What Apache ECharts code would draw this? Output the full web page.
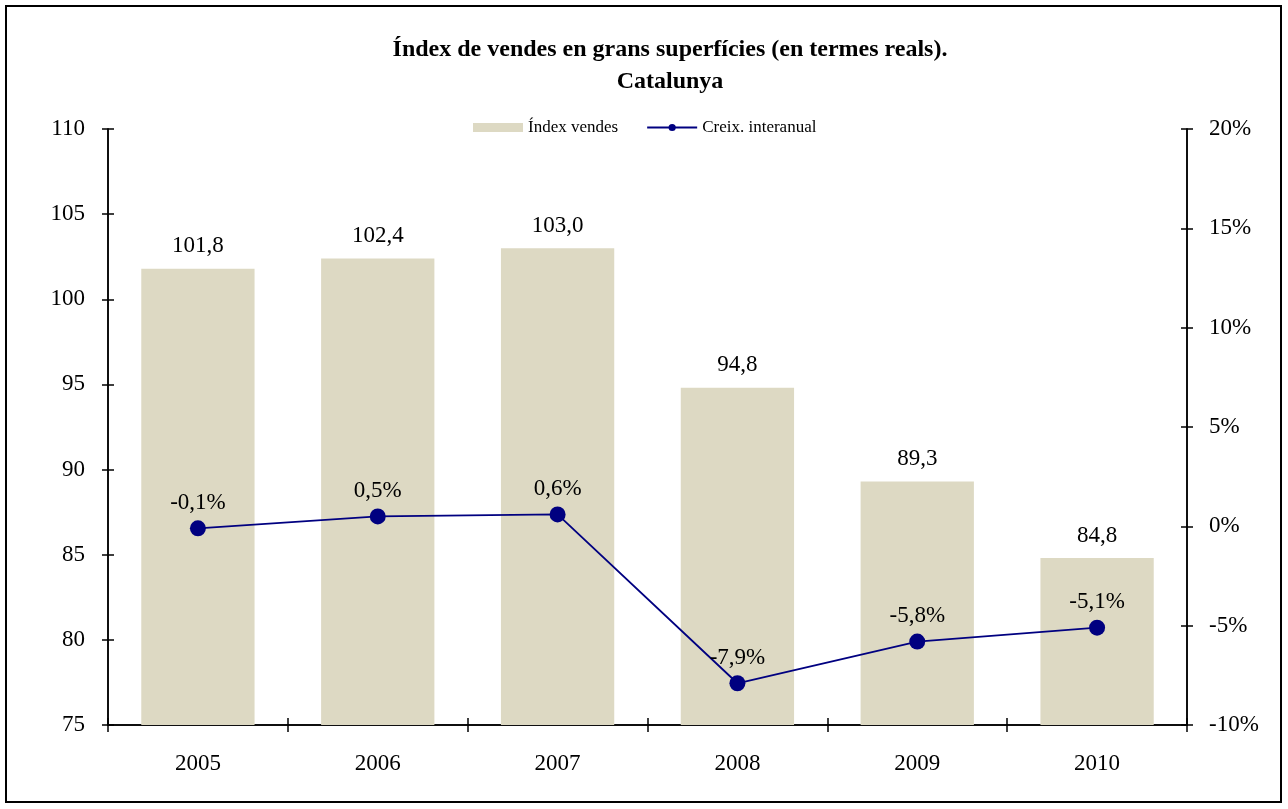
<!DOCTYPE html>
<html>
<head>
<meta charset="utf-8">
<script src="https://cdn.jsdelivr.net/npm/echarts@6/dist/echarts.min.js"></script>
<style>
  html, body { margin: 0; padding: 0; background: #fff; }
  #chart { width: 1288px; height: 809px; }
  #frame { position: absolute; left: 5px; top: 5px; width: 1277px; height: 798px; border: 2px solid #000; box-sizing: border-box; pointer-events: none; }
</style>
</head>
<body>
<div id="chart"></div>
<div id="frame"></div>
<script>
// Data
const years = ['2005', '2006', '2007', '2008', '2009', '2010'];
const salesIndex = [101.8, 102.4, 103.0, 94.8, 89.3, 84.8];
const yoyGrowth = [-0.1, 0.5, 0.6, -7.9, -5.8, -5.1];

const font = '"Liberation Serif", "Times New Roman", serif';
const comma = v => String(v).replace('.', ',');

let chart = echarts.init(document.getElementById('chart'));

// ticks cross the axis line, so each axis is drawn twice: ticks outside, then inside
function leftAxis(inside, showLabel) {
    return {
        type: 'value', position: 'left', min: 75, max: 110, interval: 5,
        axisLine: { show: true, lineStyle: { color: '#000', width: 1.5 } },
        axisTick: { show: true, inside: inside, length: 6, lineStyle: { color: '#000', width: 1.5 } },
        axisLabel: { show: showLabel, margin: 23, fontFamily: font, fontSize: 23, color: '#000' },
        splitLine: { show: false }
    };
}
function rightAxis(inside, showLabel) {
    return {
        type: 'value', position: 'right', min: -10, max: 20, interval: 5,
        axisLine: { show: true, lineStyle: { color: '#000', width: 1.5 } },
        axisTick: { show: true, inside: inside, length: 6, lineStyle: { color: '#000', width: 1.5 } },
        axisLabel: { show: showLabel, margin: 22, fontFamily: font, fontSize: 23, color: '#000',
            formatter: v => v + '%' },
        splitLine: { show: false }
    };
}
function catAxis(inside, showLabel) {
    return {
        type: 'category', data: years, position: 'bottom', boundaryGap: true,
        axisLine: { show: true, onZero: false, lineStyle: { color: '#000', width: 1.5 } },
        axisTick: { show: true, inside: inside, length: 7, lineStyle: { color: '#000', width: 1.5 } },
        axisLabel: { show: showLabel, margin: 27, fontFamily: font, fontSize: 23, color: '#000' }
    };
}

let option = {
    backgroundColor: '#fff',
    animation: false,
    title: {
        text: 'Índex de vendes en grans superfícies (en termes reals).\nCatalunya',
        left: 665, top: 29, textAlign: 'center',
        textStyle: { fontFamily: font, fontSize: 24, fontWeight: 'bold', color: '#000', lineHeight: 32 }
    },
    legend: {
        top: 114, left: 468,
        itemGap: 28, itemWidth: 50, itemHeight: 9,
        textStyle: { fontFamily: font, fontSize: 17, color: '#000' },
        data: [
            { name: 'Índex vendes', icon: 'rect' },
            { name: 'Creix. interanual' }
        ]
    },
    grid: { left: 108, right: 101, top: 129, bottom: 84 },
    xAxis: [catAxis(false, true), catAxis(true, false)],
    yAxis: [leftAxis(false, true), rightAxis(false, true), leftAxis(true, false), rightAxis(true, false)],
    series: [
        {
            name: 'Índex vendes', type: 'bar', yAxisIndex: 0, barWidth: '63%',
            data: salesIndex,
            itemStyle: { color: '#DDD9C3' },
            label: { show: true, position: 'top', distance: 11, fontFamily: font, fontSize: 23, color: '#000',
                formatter: p => comma(p.value.toFixed(1)) }
        },
        {
            name: 'Creix. interanual', type: 'line', yAxisIndex: 1,
            data: yoyGrowth,
            symbol: 'circle', symbolSize: 16,
            lineStyle: { color: '#000080', width: 1.8 },
            itemStyle: { color: '#000080' },
            label: { show: true, position: 'top', distance: 6, fontFamily: font, fontSize: 23, color: '#000',
                formatter: p => comma(p.value.toFixed(1)) + '%' }
        }
    ]
};

chart.setOption(option);
</script>
</body>
</html>
